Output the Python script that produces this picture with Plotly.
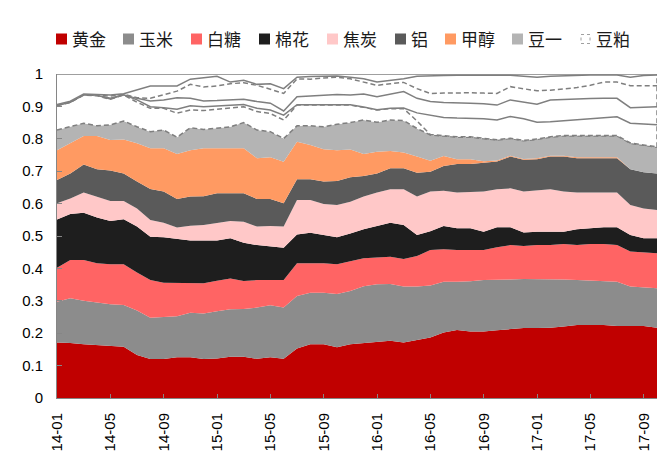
import numpy as np
import plotly.graph_objects as go

# ---------------- data (cumulative share at top of each layer) ----------------
months = ["14-01","14-02","14-03","14-04","14-05","14-06","14-07","14-08","14-09","14-10","14-11","14-12",
          "15-01","15-02","15-03","15-04","15-05","15-06","15-07","15-08","15-09","15-10","15-11","15-12",
          "16-01","16-02","16-03","16-04","16-05","16-06","16-07","16-08","16-09","16-10","16-11","16-12",
          "17-01","17-02","17-03","17-04","17-05","17-06","17-07","17-08","17-09","17-10"]
tick_labels = ["14-01","14-05","14-09","15-01","15-05","15-09","16-01","16-05","16-09","17-01","17-05","17-09"]
y_ticks = [0, 0.1, 0.2, 0.3, 0.4, 0.5, 0.6, 0.7, 0.8, 0.9, 1]
y_tick_text = ["0", "0.1", "0.2", "0.3", "0.4", "0.5", "0.6", "0.7", "0.8", "0.9", "1"]

gold_top = [0.171,0.170,0.166,0.164,0.160,0.158,0.133,0.120,0.120,0.126,0.126,0.120,0.122,0.127,0.127,0.121,0.126,0.121,0.153,0.166,
            0.166,0.157,0.166,0.169,0.174,0.177,0.171,0.179,0.187,0.202,0.210,0.205,0.205,0.209,0.212,0.216,0.216,0.217,0.221,0.225,
            0.225,0.225,0.222,0.222,0.222,0.217]
corn_top = [0.297,0.308,0.300,0.294,0.289,0.287,0.270,0.248,0.251,0.252,0.263,0.261,0.268,0.274,0.275,0.279,0.286,0.279,0.315,0.325,
            0.325,0.321,0.330,0.345,0.351,0.352,0.344,0.344,0.347,0.359,0.359,0.360,0.364,0.366,0.366,0.367,0.367,0.367,0.366,0.364,
            0.362,0.362,0.359,0.344,0.342,0.339]
sugar_top = [0.402,0.426,0.426,0.416,0.413,0.413,0.387,0.364,0.356,0.356,0.354,0.354,0.362,0.369,0.361,0.364,0.364,0.364,0.416,0.416,
             0.416,0.413,0.423,0.431,0.434,0.436,0.429,0.438,0.457,0.459,0.457,0.457,0.457,0.465,0.472,0.469,0.472,0.472,0.475,0.472,
             0.475,0.475,0.472,0.452,0.450,0.447]
cotton_top = [0.551,0.568,0.572,0.557,0.546,0.552,0.529,0.498,0.496,0.490,0.486,0.486,0.486,0.493,0.479,0.472,0.467,0.464,0.505,0.510,
              0.503,0.496,0.508,0.521,0.531,0.541,0.534,0.503,0.515,0.531,0.524,0.524,0.513,0.527,0.527,0.511,0.513,0.513,0.513,0.521,
              0.524,0.527,0.527,0.503,0.493,0.493]
coke_top = [0.601,0.616,0.634,0.622,0.608,0.608,0.585,0.549,0.541,0.526,0.532,0.534,0.541,0.546,0.544,0.529,0.531,0.529,0.611,0.611,
            0.599,0.596,0.606,0.622,0.634,0.644,0.644,0.622,0.637,0.640,0.634,0.635,0.637,0.644,0.647,0.637,0.640,0.644,0.637,0.634,
            0.634,0.634,0.634,0.596,0.585,0.580]
alu_top = [0.673,0.693,0.721,0.706,0.702,0.693,0.668,0.645,0.637,0.614,0.622,0.623,0.632,0.632,0.632,0.614,0.614,0.601,0.675,0.675,
           0.668,0.670,0.681,0.685,0.693,0.709,0.709,0.695,0.698,0.716,0.722,0.722,0.726,0.730,0.745,0.735,0.737,0.745,0.745,0.740,
           0.740,0.740,0.740,0.706,0.697,0.693]
methanol_top = [0.765,0.786,0.809,0.809,0.796,0.798,0.786,0.771,0.771,0.753,0.765,0.771,0.771,0.771,0.771,0.740,0.743,0.729,0.791,0.781,
                0.768,0.765,0.767,0.753,0.760,0.762,0.758,0.745,0.732,0.747,0.737,0.737,0.731,0.733,0.748,0.738,0.740,0.748,0.748,0.743,
                0.743,0.743,0.743,0.706,0.697,0.693]
soy1_top = [0.827,0.837,0.848,0.840,0.843,0.855,0.837,0.822,0.827,0.805,0.834,0.829,0.832,0.837,0.850,0.827,0.822,0.801,0.840,0.840,
            0.837,0.845,0.850,0.858,0.851,0.858,0.856,0.832,0.812,0.809,0.805,0.805,0.801,0.796,0.801,0.794,0.798,0.805,0.809,0.809,
            0.809,0.809,0.809,0.786,0.781,0.774]
soymeal_top = [0.902,0.912,0.935,0.933,0.922,0.935,0.913,0.894,0.894,0.879,0.889,0.887,0.891,0.895,0.899,0.884,0.878,0.858,0.904,0.904,
               0.904,0.904,0.904,0.897,0.889,0.893,0.893,0.855,0.813,0.810,0.806,0.806,0.802,0.797,0.802,0.795,0.799,0.806,0.810,0.810,
               0.810,0.810,0.810,0.787,0.782,0.775]
other1_top = [0.903,0.913,0.936,0.934,0.923,0.936,0.920,0.899,0.896,0.891,0.902,0.899,0.901,0.903,0.906,0.894,0.889,0.873,0.905,0.905,
              0.905,0.905,0.905,0.898,0.890,0.894,0.895,0.880,0.873,0.866,0.864,0.864,0.862,0.858,0.869,0.862,0.851,0.853,0.856,0.858,
              0.861,0.865,0.868,0.848,0.845,0.843]
other2_top = [0.904,0.914,0.937,0.935,0.925,0.937,0.925,0.917,0.920,0.927,0.925,0.917,0.918,0.920,0.922,0.915,0.910,0.886,0.930,0.932,
              0.935,0.937,0.935,0.938,0.930,0.937,0.946,0.925,0.915,0.912,0.912,0.910,0.908,0.904,0.920,0.914,0.907,0.920,0.922,0.923,
              0.924,0.925,0.925,0.896,0.898,0.899]
other3_top = [0.905,0.915,0.937,0.935,0.932,0.938,0.927,0.925,0.935,0.947,0.968,0.960,0.963,0.970,0.973,0.965,0.953,0.940,0.985,0.984,
              0.988,0.990,0.985,0.975,0.965,0.970,0.974,0.955,0.940,0.941,0.942,0.942,0.941,0.940,0.961,0.955,0.948,0.950,0.953,0.958,
              0.965,0.975,0.975,0.964,0.964,0.964]
other4_top = [0.906,0.916,0.938,0.936,0.935,0.939,0.951,0.963,0.963,0.963,0.984,0.988,0.993,0.975,0.981,0.968,0.970,0.955,0.990,0.992,
              0.993,0.994,0.990,0.985,0.975,0.980,0.985,0.993,0.995,0.995,0.996,0.996,0.996,0.996,0.996,0.993,0.990,0.993,0.995,0.996,
              0.997,0.997,0.997,0.990,0.995,0.997]
total_top = [1.0] * len(months)

series_names = ["黄金", "玉米", "白糖", "棉花", "焦炭", "铝", "甲醇", "豆一", "豆粕", "其他1", "其他2", "其他3", "其他4", "其他5"]
tops = [gold_top, corn_top, sugar_top, cotton_top, coke_top, alu_top, methanol_top, soy1_top,
        soymeal_top, other1_top, other2_top, other3_top, other4_top, total_top]
for t in tops:
    assert len(t) == len(months)

# per-series shares from cumulative tops
cum = np.array(tops)
shares = np.clip(np.diff(np.vstack([np.zeros(len(months)), cum]), axis=0), 0, None)

GRAY = "#7F7F7F"
fills = ["#C00000", "#8C8C8C", "#FF6464", "#1E1E1E", "#FFC8C8", "#5A5A5A", "#FF9A62", "#B4B4B4",
         "white", "white", "white", "white", "white", "white"]
lines = [None, None, None, None, None, None, None, ("dash", GRAY),
         ("dash", GRAY), ("solid", GRAY), ("solid", GRAY), ("dash", GRAY), ("solid", GRAY), ("solid", GRAY)]

fig = go.Figure()
for name, vals, fc, ln in zip(series_names, shares, fills, lines):
    if ln is None:
        line = dict(width=0, color=fc)
    else:
        line = dict(width=1.5, color=ln[1], dash="5px,3px" if ln[0] == "dash" else "solid")
    fig.add_trace(go.Scatter(
        x=months, y=np.round(vals, 4), name=name, mode="lines", stackgroup="one",
        fill="tonexty", fillcolor=fc, line=line, showlegend=False, hoverinfo="x+y+name"))

# dashed right edge of the white (outlined) series
fig.add_shape(type="line", xref="x", yref="y", x0=months[-1], x1=months[-1],
              y0=soy1_top[-1], y1=1.0, line=dict(color=GRAY, width=1.5, dash="5px,3px"))

# ---------------- layout geometry ----------------
# page body adds an 8px offset; plot area should land at screen x 57..657, y 74..398
OFF = 8
FIG_W, FIG_H = 671 - OFF, 459 - OFF
L, T, W, H = 57 - OFF, 74 - OFF, 600, 324

def px(xs):   # screen x -> paper x
    return (xs - OFF - L) / W
def py(ys):   # screen y -> paper y
    return (T + H - (ys - OFF)) / H

legend_names = ["黄金", "玉米", "白糖", "棉花", "焦炭", "铝", "甲醇", "豆一", "豆粕"]
sq_left = [56, 123, 191, 259, 327, 395, 445, 512, 580]
leg_y = 39
for i, nm in enumerate(legend_names):
    x0 = sq_left[i]
    if nm == "豆粕":
        fig.add_shape(type="rect", xref="paper", yref="paper", x0=px(x0 + 1), x1=px(x0 + 10),
                      y0=py(leg_y + 4.5), y1=py(leg_y - 4.5),
                      line=dict(color="#A0A0A0", width=1, dash="dot"), fillcolor="white")
    else:
        fig.add_shape(type="rect", xref="paper", yref="paper", x0=px(x0), x1=px(x0 + 11),
                      y0=py(leg_y + 5.5), y1=py(leg_y - 5.5), line=dict(width=0), fillcolor=fills[i])
    fig.add_annotation(text=nm, xref="paper", yref="paper", x=px(x0 + 14), y=py(leg_y),
                       xanchor="left", yanchor="middle", showarrow=False,
                       font=dict(family="Noto Sans CJK SC", size=17, color="#1A1A1A"))

fig.update_layout(
    width=FIG_W, height=FIG_H,
    margin=dict(l=L, r=FIG_W - L - W, t=T, b=FIG_H - T - H, autoexpand=False),
    paper_bgcolor="white", plot_bgcolor="white",
    showlegend=False,
    font=dict(family="Liberation Sans", size=15, color="#000000"),
)
fig.update_xaxes(
    type="category", range=[0, len(months) - 1], automargin=False,
    tickmode="array", tickvals=tick_labels, ticktext=tick_labels, tickangle=-90,
    ticks="inside", ticklen=4, tickcolor="#868686",
    showline=True, linecolor="#868686", linewidth=1, showgrid=False, zeroline=False,
    ticklabelstandoff=8, tickfont=dict(size=15, family="Liberation Sans", color="#000000"),
)
fig.update_yaxes(
    range=[0, 1], automargin=False, tickmode="array", tickvals=y_ticks, ticktext=y_tick_text,
    ticks="inside", ticklen=5, tickcolor="#868686",
    showline=True, linecolor="#868686", linewidth=1, showgrid=False, zeroline=False,
    ticklabelstandoff=10, tickfont=dict(size=15, family="Liberation Sans", color="#000000"),
)

fig.write_html("out.html")
